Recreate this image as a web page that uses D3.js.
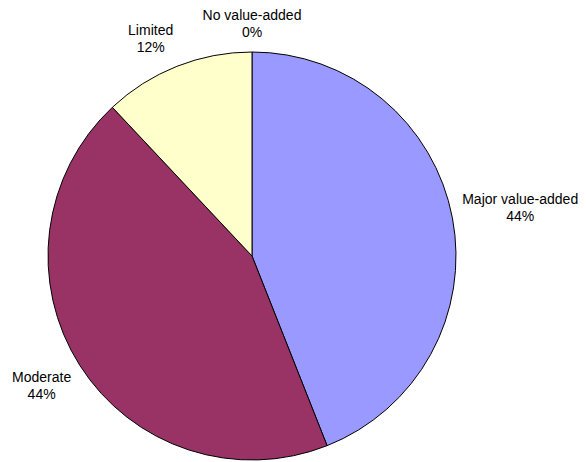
<!DOCTYPE html>
<html>
<head>
<meta charset="utf-8">
<script src="https://cdn.jsdelivr.net/npm/d3@7"></script>
<style>
  body { margin: 0; background: #fff; }
  text { font-family: Arial, "Liberation Sans", sans-serif; font-size: 14px; fill: #000; }
</style>
</head>
<body>
<div id="chart"></div>
<script>
var categories = ["Major value-added", "Moderate", "Limited", "No value-added"];
var shares = [44, 44, 12, 0];
var colors = ["#9999ff", "#993366", "#ffffcc", "#ccffff"];

var width = 586,
    height = 462,
    cx = 252,
    cy = 256,
    radius = 204;

var data = categories.map(function(c, i) {
  return { name: c, share: shares[i], color: colors[i] };
});

var pie = d3.pie()
  .sort(null)
  .value(function(d) { return d.share; });

var arc = d3.arc()
  .outerRadius(radius)
  .innerRadius(0);

var svg = d3.select("#chart").append("svg")
  .attr("width", width)
  .attr("height", height);

var g = svg.append("g")
  .attr("transform", "translate(" + cx + "," + cy + ")");

var arcs = pie(data);

g.selectAll("path")
  .data(arcs.filter(function(d) { return d.data.share > 0; }))
  .enter().append("path")
  .attr("d", arc)
  .style("fill", function(d) { return d.data.color; })
  .style("stroke", "#000")
  .style("stroke-width", 1);

// labels sit just outside the rim, pushed outward by their own box size
var lineH = 17;
var labelR = radius + 10;
var clamp = function(v, k) { return Math.max(-1, Math.min(1, v * k)); };

var labels = g.selectAll(".lbl")
  .data(arcs)
  .enter().append("text")
  .attr("class", "lbl")
  .attr("text-anchor", "middle");

labels.append("tspan")
  .attr("x", 0)
  .attr("dy", 0)
  .text(function(d) { return d.data.name; });
labels.append("tspan")
  .attr("x", 0)
  .attr("dy", lineH)
  .text(function(d) { return d.data.share + "%"; });

labels.attr("transform", function(d) {
  var a = (d.startAngle + d.endAngle) / 2;
  var s = Math.sin(a), c = Math.cos(a);
  var px = labelR * s, py = -labelR * c;
  var w = this.getBBox().width, h = lineH * 2;
  var bx = px + clamp(s, 3) * w / 2;
  var by = py - clamp(c, 2) * h / 2;
  // first baseline of a two-line block centred on by
  return "translate(" + bx + "," + (by - 5.5) + ")";
});
</script>
</body>
</html>
